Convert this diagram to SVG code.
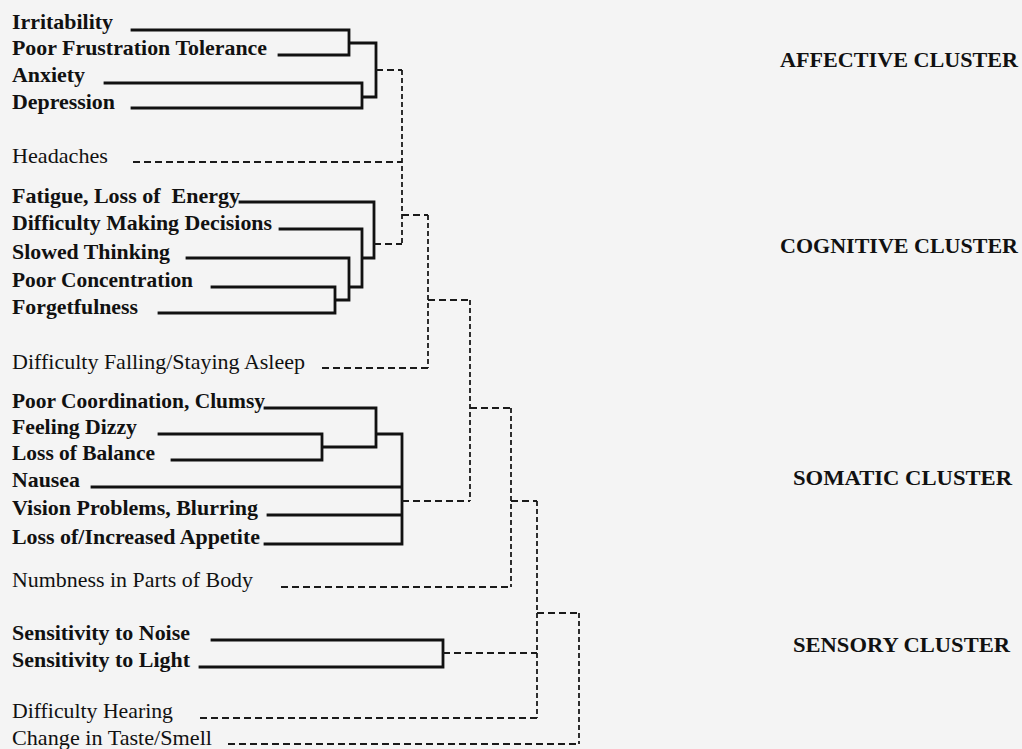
<svg xmlns="http://www.w3.org/2000/svg" width="1022" height="749" viewBox="0 0 1022 749">
<style>
.b{font-family:"Liberation Serif","Times New Roman",serif;font-weight:bold;font-size:21px;fill:#111}
.r{font-family:"Liberation Serif","Times New Roman",serif;font-size:21px;fill:#111}
.c{font-family:"Liberation Serif","Times New Roman",serif;font-weight:bold;font-size:20px;fill:#111}
.s{fill:none;stroke:#111;stroke-width:2.8;stroke-linecap:square}
.dh{fill:none;stroke:#1a1a1a;stroke-width:2;stroke-dasharray:7 4}
.dv{fill:none;stroke:#1a1a1a;stroke-width:1.8;stroke-dasharray:5 3}
</style>
<rect width="1022" height="749" fill="#f4f4f4"/>
<g id="connectors">
  <path class="s" d="M132,30 H349 V55 M279,55 H349 M349,43 H376 M105,83 H362 V108 M132,108 H362 M362,97 H376 M376,43 V97"/>
  <path class="s" d="M240,202 H374 V258 M280,229 H362 V287 M187,258 H349 V300 M212,287 H335 V313 M159,313 H335 M335,300 H349 M349,287 H362 M362,258 H374"/>
  <path class="s" d="M265,408 H376 V447 M159,434 H322 V460 M172,460 H322 M322,447 H376 M376,434 H402 M402,434 V544 M92,487 H402 M268,515 H402 M265,544 H402"/>
  <path class="s" d="M212,640 H443 V667 M200,667 H443"/>
  <path class="dh" d="M376,70 H402 M133,162 H402 M374,244 H402 M402,215 H428 M322,368 H428 M428,300 H470 M402,501 H470 M470,408 H511 M281,587 H511 M511,501 H537 M443,653 H537 M200,718 H537 M537,613 H579 M228,744 H579"/>
  <path class="dv" d="M402,70 V244 M428,215 V368 M470,300 V501 M511,408 V587 M537,501 V718 M579,613 V744"/>
</g>
<g id="n-irritability"><text class="b" x="12" y="29" textLength="101" lengthAdjust="spacingAndGlyphs">Irritability</text></g>
<g id="n-frustration"><text class="b" x="12" y="55" textLength="255" lengthAdjust="spacingAndGlyphs">Poor Frustration Tolerance</text></g>
<g id="n-anxiety"><text class="b" x="12" y="82" textLength="73" lengthAdjust="spacingAndGlyphs">Anxiety</text></g>
<g id="n-depression"><text class="b" x="12" y="109" textLength="103" lengthAdjust="spacingAndGlyphs">Depression</text></g>
<g id="n-headaches"><text class="r" x="12" y="163" textLength="96" lengthAdjust="spacingAndGlyphs">Headaches</text></g>
<g id="n-fatigue"><text class="b" x="12" y="203" textLength="228" lengthAdjust="spacingAndGlyphs" xml:space="preserve">Fatigue, Loss of  Energy</text></g>
<g id="n-decisions"><text class="b" x="12" y="230" textLength="260" lengthAdjust="spacingAndGlyphs">Difficulty Making Decisions</text></g>
<g id="n-slowed"><text class="b" x="12" y="259" textLength="158" lengthAdjust="spacingAndGlyphs">Slowed Thinking</text></g>
<g id="n-concentration"><text class="b" x="12" y="287" textLength="181" lengthAdjust="spacingAndGlyphs">Poor Concentration</text></g>
<g id="n-forgetfulness"><text class="b" x="12" y="314" textLength="126" lengthAdjust="spacingAndGlyphs">Forgetfulness</text></g>
<g id="n-asleep"><text class="r" x="12" y="369" textLength="293" lengthAdjust="spacingAndGlyphs">Difficulty Falling/Staying Asleep</text></g>
<g id="n-coordination"><text class="b" x="12" y="408" textLength="253" lengthAdjust="spacingAndGlyphs">Poor Coordination, Clumsy</text></g>
<g id="n-dizzy"><text class="b" x="12" y="434" textLength="125" lengthAdjust="spacingAndGlyphs">Feeling Dizzy</text></g>
<g id="n-balance"><text class="b" x="12" y="460" textLength="143" lengthAdjust="spacingAndGlyphs">Loss of Balance</text></g>
<g id="n-nausea"><text class="b" x="12" y="487" textLength="68" lengthAdjust="spacingAndGlyphs">Nausea</text></g>
<g id="n-vision"><text class="b" x="12" y="515" textLength="246" lengthAdjust="spacingAndGlyphs">Vision Problems, Blurring</text></g>
<g id="n-appetite"><text class="b" x="12" y="544" textLength="248" lengthAdjust="spacingAndGlyphs">Loss of/Increased Appetite</text></g>
<g id="n-numbness"><text class="r" x="12" y="587" textLength="241" lengthAdjust="spacingAndGlyphs">Numbness in Parts of Body</text></g>
<g id="n-noise"><text class="b" x="12" y="640" textLength="178" lengthAdjust="spacingAndGlyphs">Sensitivity to Noise</text></g>
<g id="n-light"><text class="b" x="12" y="667" textLength="178" lengthAdjust="spacingAndGlyphs">Sensitivity to Light</text></g>
<g id="n-hearing"><text class="r" x="12" y="718" textLength="161" lengthAdjust="spacingAndGlyphs">Difficulty Hearing</text></g>
<g id="n-taste"><text class="r" x="12" y="745" textLength="200" lengthAdjust="spacingAndGlyphs">Change in Taste/Smell</text></g>
<g id="c-affective"><text class="c" x="780" y="67" textLength="238" lengthAdjust="spacingAndGlyphs">AFFECTIVE CLUSTER</text></g>
<g id="c-cognitive"><text class="c" x="780" y="253" textLength="238" lengthAdjust="spacingAndGlyphs">COGNITIVE CLUSTER</text></g>
<g id="c-somatic"><text class="c" x="793" y="485" textLength="219" lengthAdjust="spacingAndGlyphs">SOMATIC CLUSTER</text></g>
<g id="c-sensory"><text class="c" x="793" y="652" textLength="217" lengthAdjust="spacingAndGlyphs">SENSORY CLUSTER</text></g>
</svg>
